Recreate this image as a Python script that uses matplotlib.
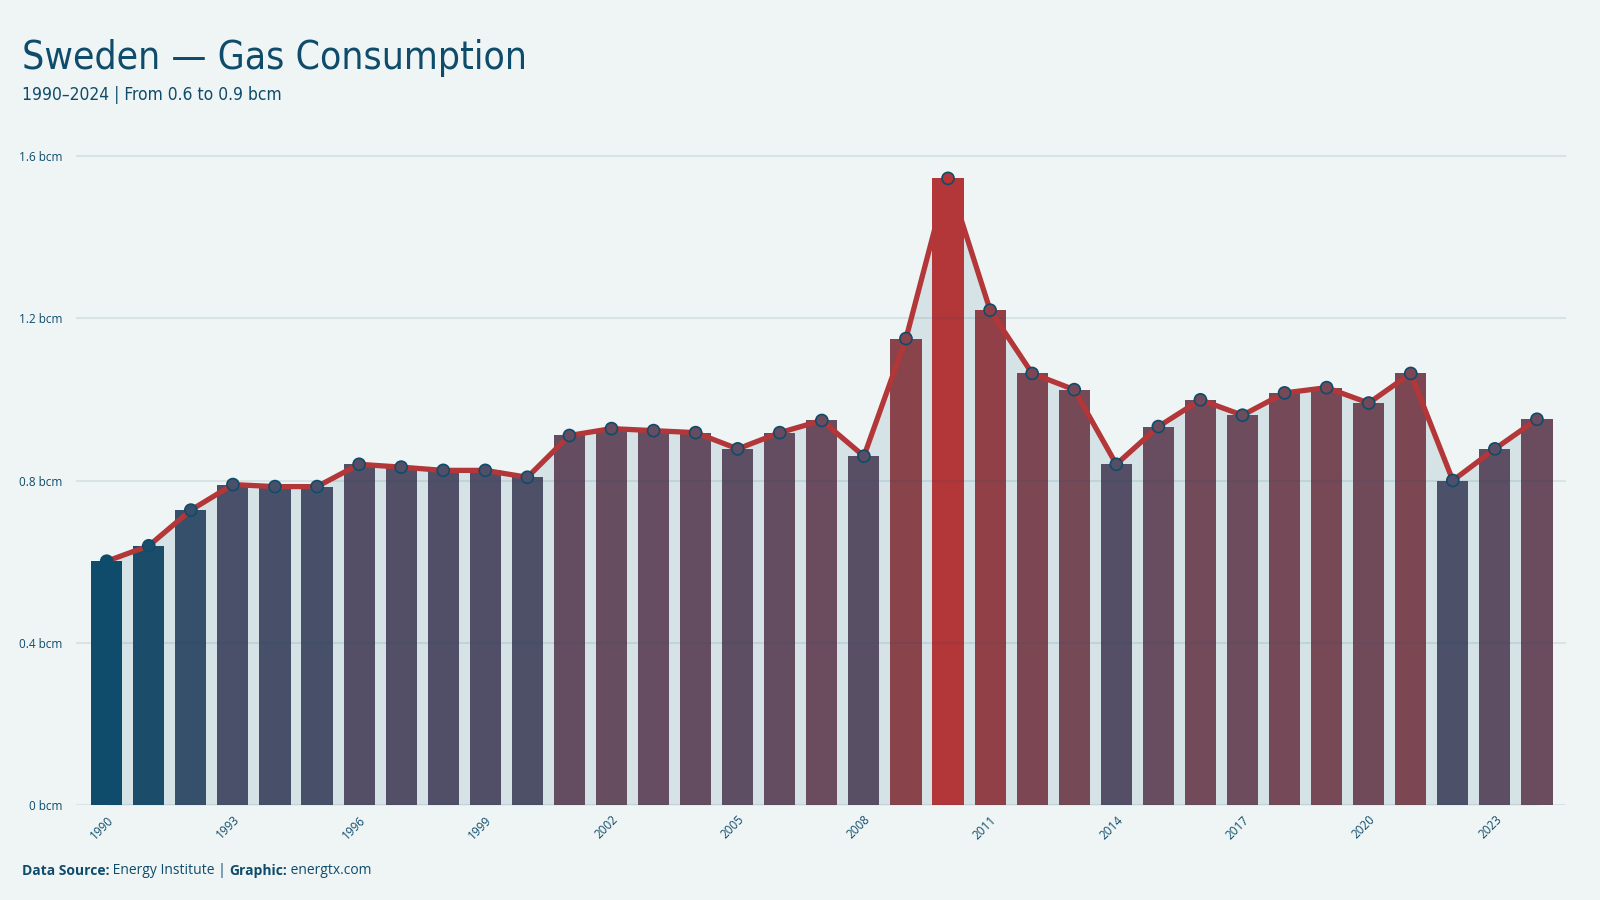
import matplotlib
matplotlib.use("Agg")
import matplotlib.pyplot as plt
from matplotlib.colors import LinearSegmentedColormap
import numpy as np

years = list(range(1990, 2025))
consumption = [0.601, 0.639, 0.727, 0.790, 0.785, 0.785, 0.840, 0.833, 0.825, 0.825,
               0.808, 0.911, 0.928, 0.923, 0.918, 0.878, 0.918, 0.948, 0.860, 1.150,
               1.545, 1.220, 1.064, 1.024, 0.840, 0.933, 0.999, 0.961, 1.016, 1.029,
               0.991, 1.064, 0.800, 0.878, 0.951]
y_ticks = [0, 0.4, 0.8, 1.2, 1.6]
y_tick_labels = ["0 bcm", "0.4 bcm", "0.8 bcm", "1.2 bcm", "1.6 bcm"]

BG = "#eff5f5"
DARK = "#0f4c6b"
RED = "#b33638"

# colour ramp blue -> red, roughly like the reference (goes purple fast)
cmap = LinearSegmentedColormap.from_list(
    "ramp",
    [(0.0, "#0f4c6b"), (0.2, "#4a5069"), (0.35, "#684d60"), (0.6, "#8c4249"), (1.0, "#b33638")],
)

vals = np.array(consumption)
x = np.arange(len(years))
t = (vals - vals.min()) / (vals.max() - vals.min())
colors = [cmap(v) for v in t]

fig = plt.figure(figsize=(16, 9), dpi=100, facecolor=BG)
ax = fig.add_axes([0.0475, 0.1056, 0.9315, 0.73])
ax.set_facecolor(BG)

# light area under the line
ax.fill_between(x, 0, vals, color="#d6e3e6", zorder=1, linewidth=0)

ax.bar(x, vals, width=0.74, color=colors, zorder=2)

# gridlines
for yt in y_ticks:
    ax.axhline(yt, color=DARK, alpha=0.1, lw=1.5, zorder=3)

ax.plot(x, vals, color=RED, lw=3.8, zorder=4, solid_joinstyle="round")
ax.scatter(x, vals, s=75, c=colors, edgecolors=DARK, linewidths=1.2, zorder=5)

ax.set_xlim(-0.73, len(years) - 1 + 0.7)
ax.set_ylim(0, 1.62)

for s in ax.spines.values():
    s.set_visible(False)

ax.set_yticks(y_ticks)
ax.set_yticklabels(y_tick_labels, fontsize=8.5, color=DARK, fontfamily="Open Sans")
ax.tick_params(axis="y", length=0, pad=10)

ax.set_xticks(x[::3])
ax.set_xticklabels([str(y) for y in years[::3]], rotation=45, ha="right",
                   rotation_mode="anchor", fontsize=8.5, color=DARK, fontfamily="Open Sans")
ax.tick_params(axis="x", length=0, pad=6)

title_font = ["Liberation Sans Narrow", "DejaVu Sans"]
fig.text(0.0135, 0.923, "Sweden — Gas Consumption", fontsize=28, color=DARK,
         family=title_font, va="baseline", ha="left", fontstretch="condensed")
fig.text(0.0135, 0.889, "1990–2024 | From 0.6 to 0.9 bcm", fontsize=12.5, color=DARK,
         family=title_font, va="baseline", ha="left", fontstretch="condensed")

# footer with bold / regular pieces
fig.canvas.draw()
renderer = fig.canvas.get_renderer()
xpos = 0.0135
pieces = [("Data Source:", "bold"), (" Energy Institute | ", "normal"),
          ("Graphic:", "bold"), (" energtx.com", "normal")]
for txt, wt in pieces:
    tt = fig.text(xpos, 0.0325, txt, fontsize=10, color=DARK, fontweight=wt,
                  family="Open Sans", va="center", ha="left")
    bb = tt.get_window_extent(renderer)
    xpos += bb.width / fig.bbox.width

fig.savefig("out.png", dpi=100, facecolor=BG)
